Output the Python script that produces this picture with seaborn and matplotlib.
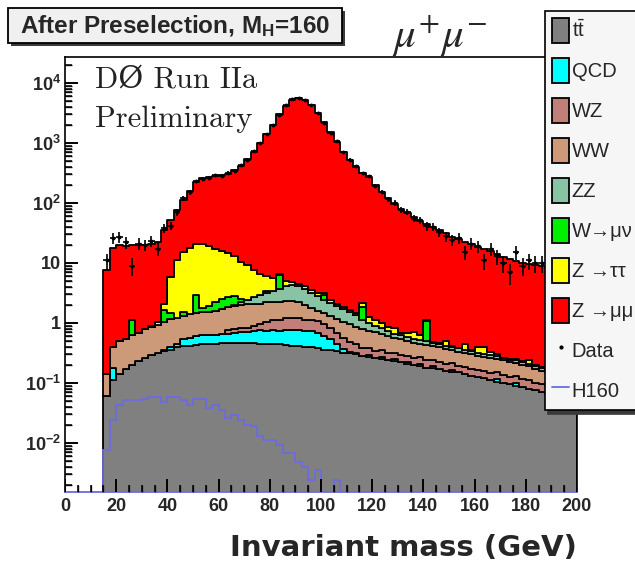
import numpy as np
import pandas as pd
import matplotlib
matplotlib.use("Agg")
import matplotlib.pyplot as plt
import seaborn as sns
from matplotlib.patches import Patch, Rectangle
from matplotlib.lines import Line2D
from matplotlib.ticker import (LogLocator, NullFormatter, MultipleLocator,
                               FixedLocator, FixedFormatter)

# ---------------- data (2.5 GeV bins from 15 to 200 GeV) ----------------
bin_low = 15.0
bin_width = 2.5
n_bins = 74

ttbar = [0.06, 0.11, 0.14, 0.17, 0.20, 0.23, 0.26, 0.29, 0.31, 0.34,
         0.36, 0.39, 0.41, 0.42, 0.43, 0.44, 0.45, 0.45, 0.46, 0.46,
         0.46, 0.46, 0.46, 0.46, 0.45, 0.45, 0.44, 0.44, 0.43, 0.42,
         0.41, 0.40, 0.39, 0.38, 0.36, 0.35, 0.34, 0.32, 0.31, 0.30,
         0.28, 0.27, 0.26, 0.25, 0.24, 0.23, 0.22, 0.21, 0.20, 0.19,
         0.18, 0.18, 0.17, 0.16, 0.155, 0.15, 0.14, 0.13, 0.125, 0.12,
         0.11, 0.105, 0.10, 0.095, 0.09, 0.085, 0.08, 0.075, 0.07, 0.065,
         0.06, 0.058, 0.055, 0.05]

qcd = [0, 0.07, 0, 0, 0, 0, 0, 0, 0, 0.01,
       0.03, 0.06, 0.12, 0.15, 0.17, 0.18, 0.19, 0.18, 0.20, 0.20,
       0.22, 0.24, 0.25, 0.27, 0.30, 0.28, 0.32, 0.30, 0.34, 0.33,
       0.35, 0.32, 0.34, 0.30, 0.25, 0.18, 0.10, 0.05, 0.02, 0.02,
       0, 0.02, 0, 0.02, 0, 0.02, 0, 0.01, 0, 0.02,
       0, 0.01, 0, 0, 0.01, 0, 0, 0, 0, 0,
       0, 0.01, 0, 0, 0.008, 0, 0, 0, 0, 0,
       0, 0, 0, 0]

wz = [0, 0, 0, 0, 0, 0, 0, 0, 0, 0,
      0, 0, 0, 0, 0, 0, 0, 0, 0, 0.10,
      0.10, 0.12, 0.12, 0.15, 0.20, 0.30, 0.35, 0.40, 0.42, 0.45,
      0.45, 0.42, 0.40, 0.38, 0.35, 0.30, 0.25, 0.20, 0.15, 0.12,
      0.10, 0.09, 0.08, 0.08, 0.075, 0.07, 0.07, 0.065, 0.06, 0.06,
      0.06, 0.055, 0.05, 0.05, 0.05, 0.045, 0.045, 0.04, 0.04, 0.04,
      0.035, 0.035, 0.035, 0.03, 0.03, 0.03, 0.03, 0.025, 0.025, 0.025,
      0.02, 0.02, 0.02, 0.02]

ww = [0.08, 0.22, 0.36, 0.37, 0.44, 0.46, 0.53, 0.55, 0.63, 0.69,
      0.76, 0.75, 0.77, 0.83, 0.85, 0.88, 0.91, 0.97, 1.04, 1.09,
      1.12, 1.18, 1.22, 1.22, 1.15, 1.17, 1.09, 1.11, 1.11, 1.10,
      0.99, 0.86, 0.67, 0.54, 0.49, 0.47, 0.46, 0.48, 0.47, 0.41,
      0.40, 0.36, 0.36, 0.31, 0.285, 0.24, 0.24, 0.215, 0.21, 0.18,
      0.19, 0.165, 0.17, 0.16, 0.135, 0.135, 0.125, 0.13, 0.115, 0.11,
      0.115, 0.10, 0.105, 0.095, 0.09, 0.085, 0.08, 0.07, 0.065, 0.06,
      0.06, 0.052, 0.045, 0.04]

zz = [0, 0, 0, 0, 0, 0, 0, 0, 0, 0,
      0, 0, 0, 0, 0, 0, 0, 0, 0, 0,
      0.10, 0.20, 0.40, 0.60, 0.80, 1.00, 1.20, 1.50, 1.80, 2.00,
      1.90, 1.70, 1.40, 1.20, 1.00, 0.85, 0.75, 0.65, 0.55, 0.50,
      0.35, 0.25, 0.20, 0.15, 0.12, 0.10, 0.09, 0.08, 0.075, 0.07,
      0.065, 0.06, 0.06, 0.05, 0.05, 0.045, 0.04, 0.04, 0.035, 0.03,
      0.03, 0.03, 0.025, 0.025, 0.02, 0.02, 0.02, 0.02, 0.015, 0.015,
      0.015, 0.015, 0.01, 0.01]

wmunu = [0, 0, 0, 0, 0.5, 0, 0, 0, 0, 0.6,
         0.3, 0, 0.2, 0, 1.5, 0.3, 0.4, 0.6, 0.8, 0.85,
         0.8, 0.3, 0, 0, 0, 0.2, 0, 2.5, 0, 0,
         0, 0, 0, 0, 0.5, 0, 0, 0, 0, 0,
         0.7, 0, 0, 0, 0, 0, 0, 0, 0, 0,
         0.6, 0, 0, 0, 0, 0, 0, 0, 0, 0,
         0, 0, 0, 0, 0, 0, 0, 0, 0, 0,
         0, 0, 0, 0]

ztautau = [0, 0, 0, 0, 0, 0, 0, 0.05, 0.1, 0.4,
           4.35, 9.8, 13.5, 16.6, 18.0, 19.2, 17.0, 14.8, 13.5, 12.0,
           10.2, 8.0, 6.85, 4.8, 3.7, 2.6, 2.3, 0.35, 0.9, 0.5,
           0.4, 0.4, 0.35, 0.3, 0.15, 0.25, 0.2, 0.15, 0.12, 0.1,
           0.3, 0.25, 0.2, 0.2, 0.15, 0.15, 0.05, 0.1, 0.15, 0.12,
           0.03, 0.02, 0.01, 0.08, 0.02, 0, 0.1, 0.02, 0.08, 0.1,
           0.04, 0.02, 0, 0.01, 0.01, 0.01, 0.03, 0.01, 0.01, 0.01,
           0.01, 0.01, 0.01, 0.01]

zmumu = [7.5, 17.6, 19.5, 18.5, 18.8, 19.3, 19.2, 20.1, 21, 33,
         46, 65, 95, 142, 199, 239, 251, 263, 274, 295,
         337, 410, 531, 712, 993, 1394, 1994, 2993, 4195, 5295,
         5596, 5196, 4296, 3197, 2197, 1498, 1048, 718, 518, 398,
         318, 269, 199, 149, 119, 94, 79, 67, 57, 49,
         43, 38.5, 34.6, 30.6, 26.6, 24.7, 22.2, 20.2, 18.2, 16.7,
         15.2, 13.7, 12.5, 11.5, 10.5, 9.9, 9.3, 9.0, 8.6, 8.1,
         7.8, 7.4, 7.1, 6.8]

data_counts = [11, 26, 27, 22, 9, 21, 20, 23, 17, 38,
               42, 70, 120, 150, 230, 250, 265, 290, 285, 320,
               345, 430, 530, 730, 990, 1420, 2010, 2980, 4230, 5320,
               5570, 5230, 4280, 3210, 2190, 1480, 1070, 700, 530, 410,
               310, 280, 190, 155, 115, 100, 76, 71, 55, 52,
               41, 40, 33, 28, 24, 26, 15, 21, 19, 11,
               17, 13, 10, 7, 15, 9, 11, 10, 10, 8,
               9, 7, 8, 6]

h160 = [0.0076, 0.024, 0.043, 0.052, 0.052, 0.052, 0.055, 0.059, 0.059, 0.049,
        0.059, 0.059, 0.052, 0.043, 0.055, 0.055, 0.038, 0.043, 0.035, 0.026,
        0.029, 0.024, 0.020, 0.019, 0.0128, 0.0112, 0.0112, 0.0093, 0.0067, 0.0067,
        0.0049, 0.0040, 0.0024, 0.0035, 0, 0, 0.0024, 0, 0, 0,
        0, 0, 0, 0, 0, 0, 0, 0, 0, 0,
        0, 0, 0, 0, 0, 0, 0, 0, 0, 0,
        0, 0, 0, 0, 0, 0, 0, 0, 0, 0,
        0, 0, 0, 0]

process_names = ["ttbar", "QCD", "WZ", "WW", "ZZ", "Wmunu", "Ztautau", "Zmumu"]
process_labels = [r"$\mathregular{t\bar{t}}$", "QCD", "WZ", "WW", "ZZ",
                  "W→μν", "Z →ττ", "Z →μμ"]
process_colors = ["#808080", "#00ffff", "#c27f7a", "#cc9a78", "#88c4a4",
                  "#00ee00", "#ffff00", "#ff0000"]
h160_color = "#6b6bdf"

xtick_values = [0, 20, 40, 60, 80, 100, 120, 140, 160, 180, 200]
xtick_labels = ["0", "20", "40", "60", "80", "100", "120", "140", "160", "180", "200"]
ytick_values = [1e-2, 1e-1, 1, 10, 1e2, 1e3, 1e4]
ytick_labels = [r"$\mathbf{10^{-2}}$", r"$\mathbf{10^{-1}}$", "1", "10",
                r"$\mathbf{10^{2}}$", r"$\mathbf{10^{3}}$", r"$\mathbf{10^{4}}$"]

# ---------------- figure ----------------
edges = bin_low + bin_width * np.arange(n_bins + 1)
centers = edges[:-1] + bin_width / 2
series = [ttbar, qcd, wz, ww, zz, wmunu, ztautau, zmumu]
df = pd.concat([pd.DataFrame({"mass": centers, "weight": s, "process": n})
                for s, n in zip(series, process_names)], ignore_index=True)

sns.set_style("white")
plt.rcParams.update({
    "font.family": ["Liberation Sans", "DejaVu Sans"],
    "mathtext.fontset": "custom",
    "mathtext.rm": "Liberation Sans",
    "mathtext.bf": "Liberation Sans:bold",
    "mathtext.it": "Liberation Sans:italic",
    "axes.linewidth": 1.2,
    "xtick.bottom": True, "xtick.top": False,
    "ytick.left": True, "ytick.right": False,
    "xtick.direction": "in", "ytick.direction": "in",
    "xtick.major.size": 9.5, "ytick.major.size": 9.5,
    "xtick.minor.size": 5, "ytick.minor.size": 5,
    "xtick.major.width": 1.2, "ytick.major.width": 1.2,
    "xtick.minor.width": 1.0, "ytick.minor.width": 1.0,
    "xtick.major.pad": 4, "ytick.major.pad": 3,
    "xtick.labelsize": 13, "ytick.labelsize": 13,
})

W, H = 635, 567
ax_w_px, ax_h_px = 577 - 65, 492 - 57
rect = [65 / W, 1 - 492 / H, ax_w_px / W, ax_h_px / H]
ymin, ymax = 1.52e-3, 2.71e4

fig = plt.figure(figsize=(W / 100, H / 100), dpi=100)
fig.patch.set_facecolor("white")
ax = fig.add_axes(rect, label="main")
ax.set_yscale("log")

sns.histplot(data=df, x="mass", weights="weight", hue="process",
             hue_order=process_names[::-1], multiple="stack", bins=edges.tolist(),
             element="step", fill=True, alpha=1,
             palette=dict(zip(process_names, process_colors)),
             edgecolor="black", linewidth=1.3, legend=False, ax=ax)

h_arr = np.asarray(h160, dtype=float)
ax.stairs(np.where(h_arr > 0, h_arr, ymin), edges, baseline=ymin,
          color=h160_color, linewidth=1.3, zorder=4)

d_arr = np.asarray(data_counts, dtype=float)
ax.errorbar(centers, d_arr, yerr=np.sqrt(d_arr), xerr=bin_width / 2,
            fmt="o", ms=1.8, color="black", elinewidth=1.2, capsize=0, zorder=5)

ax.set_xlim(0, 200)
ax.set_ylim(ymin, ymax)
ax.set_xlabel("")
ax.set_ylabel("")
ax.set_facecolor("white")
ax.tick_params(which="both", bottom=False, left=False, top=False, right=False,
               labelbottom=False, labelleft=False)
for side in ["left", "top", "right"]:
    ax.spines[side].set_color("black")
    ax.spines[side].set_linewidth(1.2)
ax.spines["bottom"].set_color(h160_color)
ax.spines["bottom"].set_linewidth(1.3)

# tick layer (same scales as the main axes)
tax = fig.add_axes(rect, label="ticks", facecolor="none", zorder=ax.get_zorder() + 1)
tax.set_yscale("log")
tax.set_xlim(0, 200)
tax.set_ylim(ymin, ymax)
for s in tax.spines.values():
    s.set_visible(False)
tax.xaxis.set_major_locator(FixedLocator(xtick_values))
tax.xaxis.set_major_formatter(FixedFormatter(xtick_labels))
tax.xaxis.set_minor_locator(MultipleLocator(5))
tax.yaxis.set_major_locator(FixedLocator(ytick_values))
tax.yaxis.set_major_formatter(FixedFormatter(ytick_labels))
tax.yaxis.set_minor_locator(LogLocator(base=10, subs=np.arange(2, 10), numticks=20))
tax.yaxis.set_minor_formatter(NullFormatter())
for lab in tax.get_xticklabels() + tax.get_yticklabels():
    lab.set_fontweight("bold")

# tick marks drawn as short line segments at the locator positions
xmaj = list(tax.xaxis.get_majorticklocs())
xmin_locs = [v for v in tax.xaxis.get_minorticklocs() if 0 <= v <= 200 and v not in xmaj]
ymaj = list(tax.yaxis.get_majorticklocs())
ymin_locs = [v for v in tax.yaxis.get_minorticklocs() if ymin <= v <= ymax]
xt = tax.get_xaxis_transform()
yt = tax.get_yaxis_transform()
tax.vlines(xmaj, 0, 13 / ax_h_px, transform=xt, colors="black", linewidth=1.3, zorder=6)
tax.vlines(xmin_locs, 0, 7 / ax_h_px, transform=xt, colors="black", linewidth=1.1, zorder=6)
tax.hlines(ymaj, 0, 13 / ax_w_px, transform=yt, colors="black", linewidth=1.3, zorder=6)
tax.hlines(ymin_locs, 0, 7 / ax_w_px, transform=yt, colors="black", linewidth=1.1, zorder=6)
tax.set_xlim(0, 200)
tax.set_ylim(ymin, ymax)

# legend
handles = [Patch(facecolor=c, edgecolor="black", linewidth=1.3) for c in process_colors]
handles += [Line2D([], [], ls="none", marker="o", ms=2, color="black"),
            Line2D([], [], color=h160_color, lw=1.3)]
labels = process_labels + ["Data", "H160"]
leg = tax.legend(handles, labels, loc="upper left",
                 bbox_to_anchor=(545 / W, 1 - 11 / H), bbox_transform=fig.transFigure,
                 borderaxespad=0, fontsize=14.5, handlelength=0.85, handleheight=1.55,
                 handletextpad=0.12, labelspacing=0.73, borderpad=0.36,
                 frameon=True, fancybox=False, framealpha=1,
                 facecolor="#f6f6f6", edgecolor="black",
                 shadow={"ox": 2.5, "oy": -2.5, "color": "#3a3a3a", "alpha": 1})
leg.get_frame().set_linewidth(1.2)
leg.set_zorder(10)

# title box
fig.add_artist(Rectangle((11 / W, 1 - 46 / H), 334 / W, 35 / H,
                         transform=fig.transFigure, facecolor="#3a3a3a",
                         edgecolor="none", zorder=1))
fig.add_artist(Rectangle((8 / W, 1 - 43 / H), 334 / W, 35 / H,
                         transform=fig.transFigure, facecolor="#f0f0f0",
                         edgecolor="black", linewidth=1.3, zorder=2))
fig.text(175 / W, 1 - 26 / H, r"After Preselection, M$_{\mathbf{H}}$=160",
         fontsize=17.5, fontweight="bold", ha="center", va="center", zorder=3)

fig.text(439 / W, 1 - 36 / H, r"$\mu^{+}\mu^{-}$", fontsize=31,
         math_fontfamily="stix", ha="center", va="center")

fig.text(95 / W, 1 - 87 / H, "DØ Run IIa", family=["cmr10", "DejaVu Serif"],
         fontsize=22, va="baseline", ha="left", color="#222222")
fig.text(95 / W, 1 - 127 / H, "Preliminary", family=["cmr10", "DejaVu Serif"],
         fontsize=22, va="baseline", ha="left", color="#222222")

fig.text(403 / W, 1 - 548 / H, "Invariant mass (GeV)", family="DejaVu Sans",
         fontweight="bold", fontsize=21, ha="center", va="center")

fig.savefig("out.png", dpi=100)
